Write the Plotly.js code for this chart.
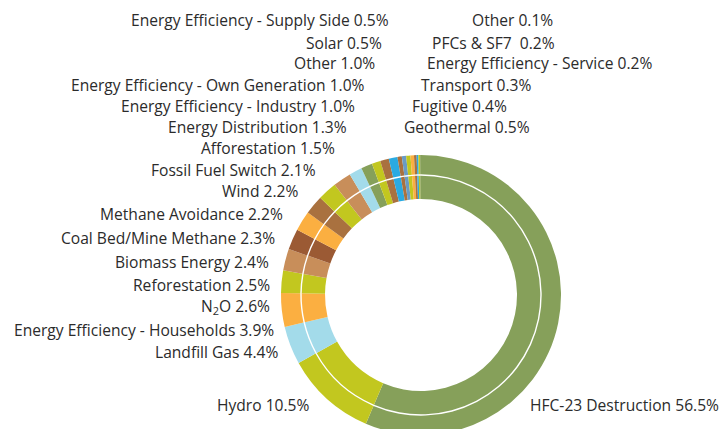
<!DOCTYPE html>
<html>
<head>
<meta charset="utf-8">
<script src="https://cdn.plot.ly/plotly-3.0.1.min.js"></script>
<style>
html,body{margin:0;padding:0;background:#fff;overflow:hidden;}
#wrap{width:725px;height:429px;overflow:hidden;position:relative;}
#chart{width:725px;height:440px;}
</style>
</head>
<body>
<div id="wrap"><div id="chart"></div></div>
<script>
// Data
var categories = [
  "HFC-23 Destruction", "Hydro", "Landfill Gas", "Energy Efficiency - Households", "N<sub>2</sub>O",
  "Reforestation", "Biomass Energy", "Coal Bed/Mine Methane", "Methane Avoidance", "Wind",
  "Fossil Fuel Switch", "Afforestation", "Energy Distribution", "Energy Efficiency - Industry",
  "Energy Efficiency - Own Generation", "Other", "Solar", "Energy Efficiency - Supply Side",
  "Geothermal", "Fugitive", "Transport", "Energy Efficiency - Service", "PFCs & SF7 ", "Other"
];
var shares = [56.5, 10.5, 4.4, 3.9, 2.6, 2.5, 2.4, 2.3, 2.2, 2.2, 2.1, 1.5, 1.3, 1.0, 1.0, 1.0, 0.5, 0.5, 0.5, 0.4, 0.3, 0.2, 0.2, 0.1];

// Styles
var C = {green:"#86A05A", lime:"#C2C71F", sky:"#A3DBEA", orange:"#FBAF41", tan:"#C88E5A",
         dbrown:"#9B5A34", brown:"#A9713F", blue:"#2AAAE1", steel:"#6A9BC4"};
var colors = [C.green, C.lime, C.sky, C.orange, C.lime, C.tan, C.dbrown, C.orange, C.brown, C.lime,
  C.tan, C.sky, C.green, C.lime, C.brown, C.blue, C.brown, C.steel, C.lime, C.orange, C.brown, C.blue, C.lime, C.green];

// Label anchor positions in pixels [x, y, side]
var labelPos = [
  [528,405,"l"],[311,405,"r"],[280,352,"r"],[276,330,"r"],[272,306,"r"],
  [272,285,"r"],[271,262,"r"],[277,238,"r"],[285,214,"r"],[300,191,"r"],
  [318,170,"r"],[337,148,"r"],[349,127,"r"],[357,106,"r"],
  [367,85,"r"],[377,63,"r"],[384,43,"r"],[391,20,"r"],
  [402,127,"l"],[410,106,"l"],[419,85,"l"],[425,63,"l"],[430,43,"l"],[470,20,"l"]
];

var W = 725, H = 440;
function px(x){return x/W;}
function py(y){return 1 - y/H;}

var cx = 421, cy = 295, rOut = 140, rIn = 119.3;

var outer = {
  type:"pie", values:shares, labels:categories.map(function(c,i){return c+" "+i;}),
  sort:false, direction:"clockwise", rotation:0,
  hole:120.7/rOut, textinfo:"none", hoverinfo:"none", showlegend:false,
  marker:{colors:colors, line:{width:0}},
  domain:{x:[px(cx-rOut), px(cx+rOut)], y:[py(cy+rOut), py(cy-rOut)]}
};
var inner = {
  type:"pie", values:shares, labels:categories.map(function(c,i){return c+" "+i;}),
  sort:false, direction:"clockwise", rotation:0,
  hole:96/rIn, textinfo:"none", hoverinfo:"none", showlegend:false,
  marker:{colors:colors, line:{width:0}},
  domain:{x:[px(cx-rIn), px(cx+rIn)], y:[py(cy+rIn), py(cy-rIn)]}
};

var annotations = categories.map(function(c,i){
  var p = labelPos[i];
  return {
    text: c + " " + shares[i].toFixed(1) + "%",
    xref:"paper", yref:"paper", x:px(p[0]), y:py(p[1]),
    xanchor: p[2]==="r" ? "right" : "left", yanchor:"middle",
    showarrow:false, font:{family:"Open Sans", size:15.6, color:"#2b2b2b"}
  };
});

var layout = {
  width:W, height:H, margin:{l:0,r:0,t:0,b:0},
  paper_bgcolor:"#fff", plot_bgcolor:"#fff",
  showlegend:false, annotations:annotations
};
Plotly.newPlot("chart", [outer, inner], layout, {displayModeBar:false, staticPlot:true});
</script>
</body>
</html>
